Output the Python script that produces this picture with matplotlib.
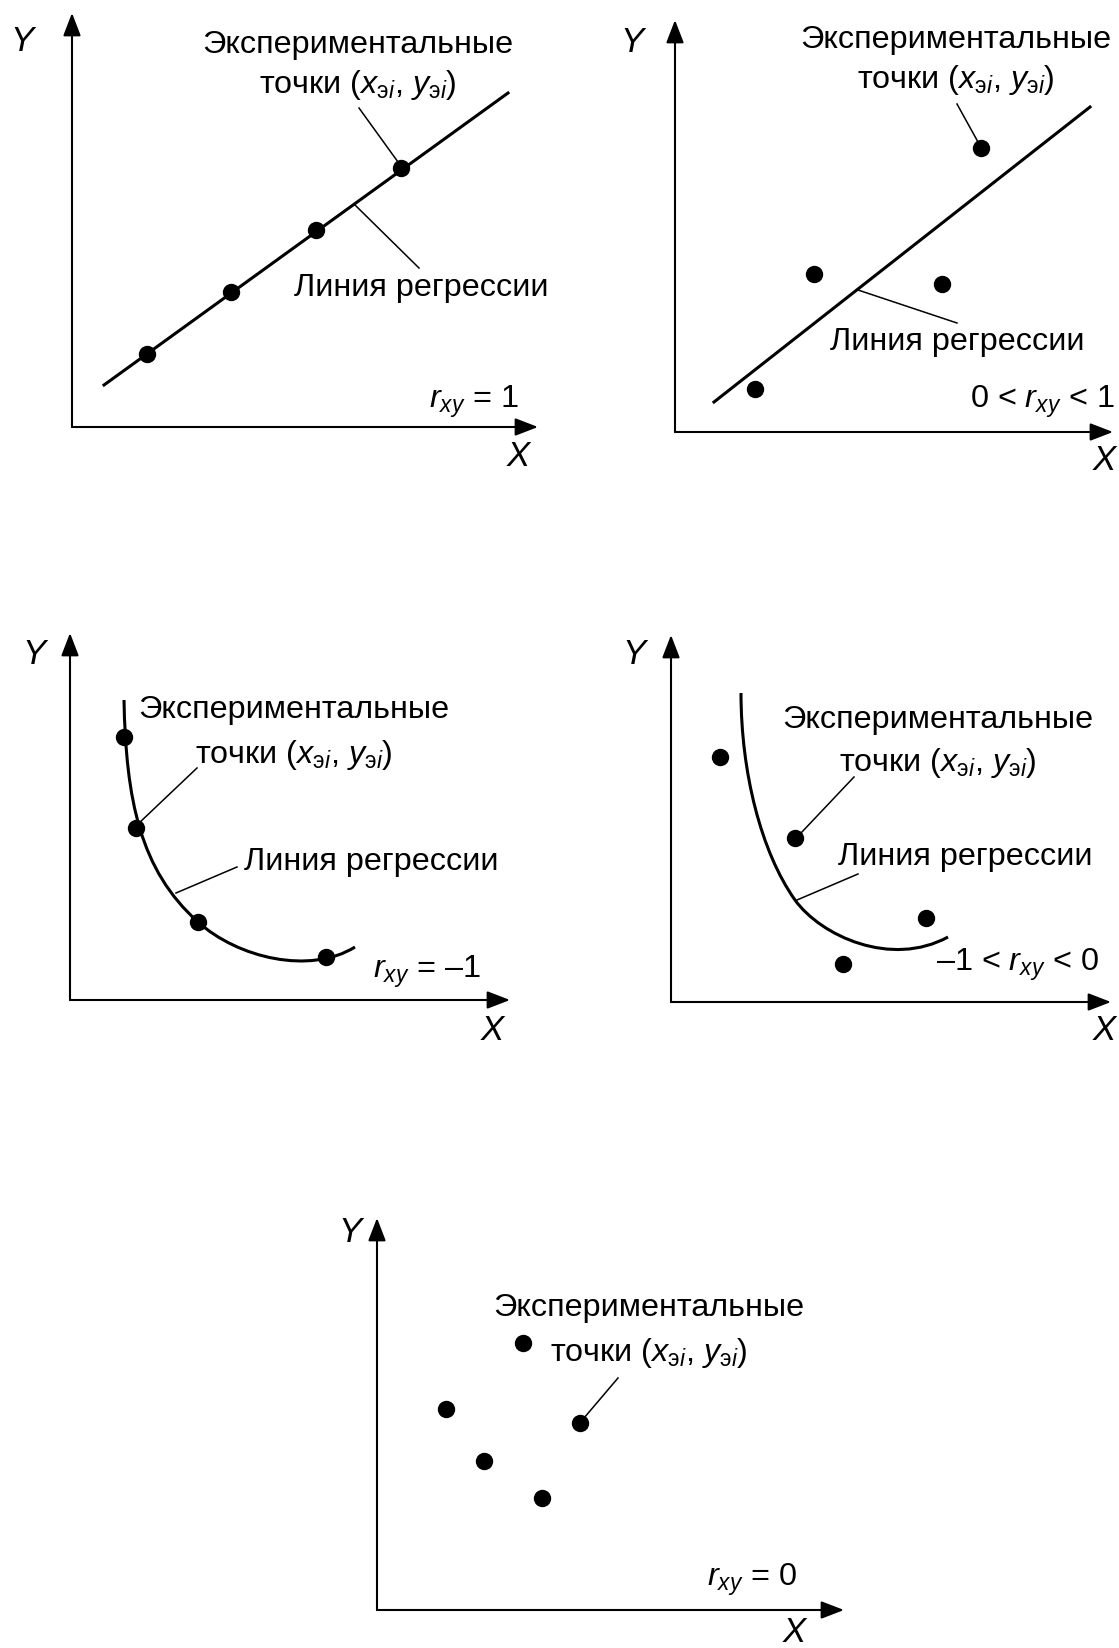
import matplotlib.pyplot as plt
from matplotlib.path import Path
from matplotlib.patches import PathPatch

plt.rcParams['font.family'] = ['Liberation Sans', 'DejaVu Sans']
plt.rcParams['mathtext.fontset'] = 'custom'
plt.rcParams['mathtext.rm'] = 'Liberation Sans'
plt.rcParams['mathtext.it'] = 'Liberation Sans:italic'

# --- data (local units of each panel, origin at the axes corner) ---
# panel 1: r = 1
p1_line_x = [32, 436]
p1_line_y = [42, 334]
p1_pts_x = [75, 159, 244, 329]
p1_pts_y = [73, 135, 197, 259]

# panel 2: 0 < r < 1
p2_line_x = [39, 415]
p2_line_y = [30, 325]
p2_pts_x = [80, 139, 267, 306]
p2_pts_y = [43, 158, 148, 284]

# panel 3: r = -1 (cubic bezier nodes of the curve)
p3_curve_x = [54, 56, 70, 128, 168, 240, 285]
p3_curve_y = [300, 200, 130, 78, 42, 25, 53]
p3_pts_x = [54, 66, 128, 256]
p3_pts_y = [263, 172, 78, 43]

# panel 4: -1 < r < 0
p4_curve_x = [70, 70, 90, 124, 150, 220, 277]
p4_curve_y = [309, 230, 150, 102, 66, 34, 65]
p4_pts_x = [49, 124, 255, 172]
p4_pts_y = [245, 164, 84, 38]

# panel 5: r = 0
p5_pts_x = [69, 107, 165, 146, 203]
p5_pts_y = [201, 149, 112, 267, 187]

pts_label = ['Экспериментальные',
             r'точки ($x_{\mathrm{э}i}$, $y_{\mathrm{э}i}$)']
line_label = 'Линия регрессии'
r_labels = [r'$r_{xy}$ = 1', r'0 < $r_{xy}$ < 1', r'$r_{xy}$ = –1',
            r'–1 < $r_{xy}$ < 0', r'$r_{xy}$ = 0']

FS = 23.3
FS_AX = 25
W_PX, H_PX = 1119, 1648

fig = plt.figure(figsize=(W_PX / 100, H_PX / 100), dpi=100)


def make_panel(ox, oy, w, h):
    '''axes whose lower-left corner sits at pixel (ox, oy) of the figure'''
    ax = fig.add_axes([ox / W_PX, 1 - oy / H_PX, w / W_PX, h / H_PX])
    ax.set_xlim(0, w)
    ax.set_ylim(0, h)
    ax.axis('off')
    style = '-|>,head_length=0.7,head_width=0.27'
    for tip in [(w, 0), (0, h)]:
        ax.annotate('', xy=tip, xytext=(0, 0), annotation_clip=False,
                    arrowprops=dict(arrowstyle=style, lw=1.5, color='black',
                                    shrinkA=0, shrinkB=0, mutation_scale=20))
    return ax


def axis_names(ax, ypos, xpos):
    ax.text(*ypos, 'Y', fontsize=FS_AX, style='italic', ha='center', va='center')
    ax.text(*xpos, 'X', fontsize=FS_AX, style='italic', ha='center', va='center')


def dots(ax, x, y):
    ax.plot(x, y, 'o', color='black', ms=11.5, clip_on=False, zorder=5)


def leader(ax, x, y):
    ax.plot(x, y, color='black', lw=1.1, clip_on=False)


def bezier(ax, x, y):
    codes = [Path.MOVETO] + [Path.CURVE4] * (len(x) - 1)
    path = Path(list(zip(x, y)), codes)
    ax.add_patch(PathPatch(path, fc='none', ec='black', lw=2.2, clip_on=False))


def two_lines(ax, x, y1, y2):
    ax.text(x, y1, pts_label[0], fontsize=FS, ha='center', va='center')
    ax.text(x, y2, pts_label[1], fontsize=FS, ha='center', va='center')


# panel 1
ax = make_panel(72, 427, 466, 414)
axis_names(ax, (-50, 386), (446, -30))
ax.plot(p1_line_x, p1_line_y, color='black', lw=2.2, clip_on=False)
dots(ax, p1_pts_x, p1_pts_y)
two_lines(ax, 286, 382, 342)
leader(ax, [287, 326], [319, 265])
leader(ax, [283, 347], [222, 159])
ax.text(222, 139, line_label, fontsize=FS, ha='left', va='center')
ax.text(447, 25, r_labels[0], fontsize=FS, ha='right', va='center')

# panel 2
ax = make_panel(675, 432, 438, 412)
axis_names(ax, (-43, 390), (429, -28))
ax.plot(p2_line_x, p2_line_y, color='black', lw=2.2, clip_on=False)
dots(ax, p2_pts_x, p2_pts_y)
two_lines(ax, 281, 392, 352)
leader(ax, [282, 303], [328, 290])
leader(ax, [183, 282], [142, 109])
ax.text(282, 90, line_label, fontsize=FS, ha='center', va='center')
ax.text(440, 30, r_labels[1], fontsize=FS, ha='right', va='center')

# panel 3
ax = make_panel(70, 1000, 440, 367)
axis_names(ax, (-36, 345), (422, -30))
bezier(ax, p3_curve_x, p3_curve_y)
dots(ax, p3_pts_x, p3_pts_y)
two_lines(ax, 224, 290, 245)
leader(ax, [127, 68], [232, 176])
leader(ax, [167, 106], [133, 107])
ax.text(174, 138, line_label, fontsize=FS, ha='left', va='center')
ax.text(411, 28, r_labels[2], fontsize=FS, ha='right', va='center')

# panel 4
ax = make_panel(671, 1002, 440, 367)
axis_names(ax, (-37, 347), (433, -28))
bezier(ax, p4_curve_x, p4_curve_y)
dots(ax, p4_pts_x, p4_pts_y)
two_lines(ax, 267, 282, 239)
leader(ax, [183, 130], [225, 169])
leader(ax, [187, 126], [128, 102])
ax.text(167, 145, line_label, fontsize=FS, ha='left', va='center')
ax.text(428, 37, r_labels[3], fontsize=FS, ha='right', va='center')

# panel 5
ax = make_panel(377, 1610, 467, 392)
axis_names(ax, (-27, 377), (417, -23))
dots(ax, p5_pts_x, p5_pts_y)
two_lines(ax, 272, 302, 257)
leader(ax, [241, 207], [232, 192])
ax.text(420, 30, r_labels[4], fontsize=FS, ha='right', va='center')

fig.savefig('out.png', dpi=100)
